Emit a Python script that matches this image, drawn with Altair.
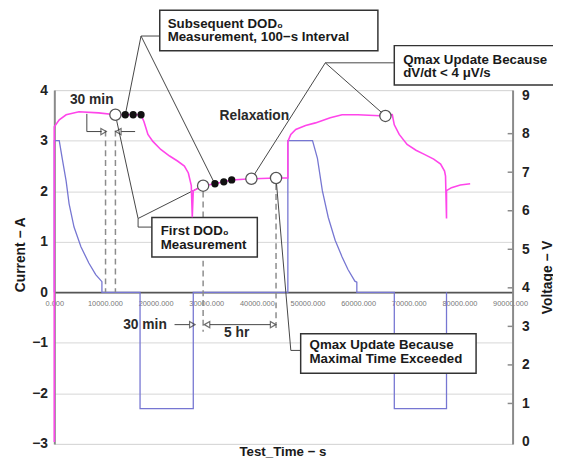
import altair as alt
import pandas as pd

# ---------------- data ----------------
# Current trace (A)
cur_t = [0, 0, 973, 1557, 2335, 2919, 3892, 5254, 6811, 8173, 9400, 9400,
         16930, 16930, 27440, 27440, 46120, 46120, 50990, 51960, 52930, 54100,
         55460, 56830, 57990, 59350, 59740, 59740, 67140, 67140, 77450, 77450]
cur_i = [0, 3.0, 3.0, 2.65, 2.20, 1.75, 1.29, 0.90, 0.58, 0.35, 0.21, 0,
         0, -2.3, -2.3, 0, 0, 3.0, 3.0, 2.65, 2.01, 1.48,
         1.03, 0.70, 0.45, 0.22, 0.20, 0, 0, -2.3, -2.3, 0]

# Voltage trace (V)
volt_t = [0, 0, 973, 2335, 4865, 8757, 12065, 14011, 15568, 17125,
          17709, 18487, 19460, 21017, 22768, 24325, 25687, 26466, 27050, 27244,
          27440, 29385, 31720, 33471, 35028, 38920, 43785, 46120, 46120, 46704,
          47677, 49623, 51569, 54488, 56823, 59937, 65386, 66748, 67137, 68110,
          69667, 71418, 72975, 74921, 76283, 77062, 77256, 77451, 77451, 78424,
          80176, 82122]
volt_v = [0.0, 8.18, 8.36, 8.49, 8.57, 8.54, 8.49, 8.49, 8.49, 8.49,
          8.31, 7.98, 7.80, 7.59, 7.42, 7.29, 7.16, 6.98, 6.65, 5.83,
          6.52, 6.65, 6.70, 6.75, 6.80, 6.83, 6.85, 6.85, 7.80, 7.98,
          8.11, 8.21, 8.28, 8.41, 8.49, 8.49, 8.46, 8.49, 8.23, 7.98,
          7.72, 7.57, 7.47, 7.34, 7.21, 7.03, 6.90, 5.80, 6.52, 6.60,
          6.67, 6.70]

# Marked points on the voltage trace
open_t = [12065, 29385, 38920, 43785, 65386]
open_v = [8.49, 6.65, 6.83, 6.85, 8.46]
dot_t = [14011, 15568, 17125, 31720, 33471, 35028]
dot_v = [8.49, 8.49, 8.49, 6.70, 6.75, 6.80]

# Dashed markers (time, current top, current bottom)
dash_t = [10116, 12065, 29385, 43785]
dash_top = [3.2, 3.2, 1.99, 2.14]
dash_bot = [0, 0, -0.78, -0.78]

# Callout / arrow polylines (group, time, current)
conn_g = [1, 1, 1, 2, 2, 3, 3, 3, 4, 4, 5, 5, 5, 5, 6, 6, 7, 7, 7,
          8, 8, 8, 9, 9, 10, 10, 11, 11]
conn_t = [20822, 17125, 14011, 17125, 31720, 67137, 53515, 38920, 53515, 65386,
          12065, 16541, 16541, 19265, 16541, 29385, 43785, 46704, 48650,
          6422, 6422, 9341, 13233, 15957, 23741, 26660, 30747, 42617]
conn_i = [5.07, 5.07, 3.51, 5.07, 2.14, 4.54, 4.54, 2.24, 4.54, 3.49,
          3.51, 1.46, 1.29, 1.29, 1.46, 2.11, 2.26, -1.15, -1.15,
          3.53, 3.18, 3.18, 3.18, 3.18, -0.64, -0.64, -0.64, -0.64]

tri_r_t = [9730, 27244, 43200]
tri_r_i = [3.18, -0.64, -0.64]
tri_l_t = [12650, 30163]
tri_l_i = [3.18, -0.64]

# Callout boxes
box_t1 = [20822, 67137, 19265, 48650]
box_t2 = [63900, 102165, 40088, 83289]
box_i1 = [5.58, 4.88, 1.48, -0.82]
box_i2 = [4.78, 4.10, 0.70, -1.60]

box_text = ["Subsequent DOD\u2080", "Measurement, 100\u2212s Interval",
            "Qmax Update Because", "dV/dt < 4 \u03bcV/s",
            "First DOD\u2080", "Measurement",
            "Qmax Update Because", "Maximal Time Exceeded"]
box_text_t = [22379, 22379, 68888, 68888, 21017, 21017, 50401, 50401]
box_text_i = [5.305, 5.05, 4.60, 4.33, 1.21, 0.94, -1.05, -1.32]

lab_text = ["30 min", "30 min", "5 hr", "Relaxation"]
lab_t = [7395, 17903, 36000, 39504]
lab_i = [3.80, -0.64, -0.80, 3.49]

x_ticks = [0, 10000, 20000, 30000, 40000, 50000, 60000, 70000, 80000, 90000]
i_ticks = [-3, -2, -1, 0, 1, 2, 3, 4]
v_ticks = [0, 1, 2, 3, 4, 5, 6, 7, 8, 9]

# ---------------- chart ----------------
W, H = 465, 359
FONT = "Liberation Sans"
PINK = "#ff45ea"
BLUE = "#7676d2"

xs = alt.Scale(domain=[0, 90500], nice=False)
X = alt.X("t:Q", scale=xs,
          axis=alt.Axis(values=x_ticks, format=".3f", labelFontSize=7.5,
                        labelColor="#777", labelPadding=8, ticks=False,
                        labelFlush=False, labelOverlap=False, offset=-154,
                        domainColor="#555", domainWidth=2, grid=False,
                        title=None))
X2 = alt.X2("t2:Q")

ys = alt.Scale(domain=[-3, 4], nice=False)
Y = alt.Y("i:Q", scale=ys,
          axis=alt.Axis(values=i_ticks, labelFontSize=14, labelFontWeight="bold",
                        labelColor="#222", labelPadding=7, ticks=False,
                        domainColor="#8a8a8a", domainWidth=2, grid=True,
                        gridColor="#d6d6d6", gridWidth=1, title=None))
Y2 = alt.Y2("i2:Q")

vs = alt.Scale(domain=[-0.05, 9.13], nice=False)
V = alt.Y("v:Q", scale=vs,
          axis=alt.Axis(orient="right", values=v_ticks, labelFontSize=14,
                        labelFontWeight="bold", labelColor="#222",
                        labelPadding=9, ticks=False, domainColor="#8a8a8a",
                        domainWidth=2, grid=False, title=None))

cur_df = pd.DataFrame({"t": cur_t, "i": cur_i, "o": range(len(cur_t))})
volt_df = pd.DataFrame({"t": volt_t, "v": volt_v, "o": range(len(volt_t))})
open_df = pd.DataFrame({"t": open_t, "v": open_v})
dot_df = pd.DataFrame({"t": dot_t, "v": dot_v})
dash_df = pd.DataFrame({"t": dash_t, "i": dash_top, "i2": dash_bot})
conn_df = pd.DataFrame({"g": conn_g, "t": conn_t, "i": conn_i,
                        "o": range(len(conn_t))})
trr_df = pd.DataFrame({"t": tri_r_t, "i": tri_r_i})
trl_df = pd.DataFrame({"t": tri_l_t, "i": tri_l_i})
box_df = pd.DataFrame({"t": box_t1, "t2": box_t2, "i": box_i1, "i2": box_i2})
btxt_df = pd.DataFrame({"t": box_text_t, "i": box_text_i, "s": box_text})
lab_df = pd.DataFrame({"t": lab_t, "i": lab_i, "s": lab_text})
one = pd.DataFrame({"s": ["x"]})
vt_df = pd.DataFrame({"v": v_ticks[1:-1]})

cur_line = alt.Chart(cur_df).mark_line(color=BLUE, strokeWidth=1.3).encode(
    x=X, y=Y, order="o:Q")
dashes = alt.Chart(dash_df).mark_rule(color="#8c8c8c", strokeWidth=1.5,
                                      strokeDash=[6, 4]).encode(x=X, y=Y, y2=Y2)
conns = alt.Chart(conn_df).mark_line(color="#444", strokeWidth=1).encode(
    x=X, y=Y, detail="g:N", order="o:Q")
tri_r = alt.Chart(trr_df).mark_point(shape="triangle-right", size=40,
                                     color="#333", strokeWidth=1.2,
                                     filled=False).encode(x=X, y=Y)
tri_l = alt.Chart(trl_df).mark_point(shape="triangle-left", size=40,
                                     color="#333", strokeWidth=1.2,
                                     filled=False).encode(x=X, y=Y)
boxes = alt.Chart(box_df).mark_rect(fill="white", stroke="#333",
                                    strokeWidth=1.5).encode(x=X, x2=X2, y=Y, y2=Y2)
btxt = alt.Chart(btxt_df).mark_text(align="left", baseline="middle", font=FONT,
                                    fontSize=13.5, fontWeight="bold",
                                    color="#1a1a1a").encode(x=X, y=Y, text="s:N")
labs = alt.Chart(lab_df).mark_text(align="center", baseline="middle", font=FONT,
                                   fontSize=14, fontWeight="bold",
                                   color="#2a2a2a").encode(x=X, y=Y, text="s:N")
xtitle = alt.Chart(one).mark_text(text="Test_Time \u2212 s", font=FONT,
                                  fontSize=13.5, fontWeight="bold",
                                  color="#1a1a1a", baseline="middle").encode(
    x=alt.value(232), y=alt.value(367))
ytitle = alt.Chart(one).mark_text(text="Current \u2212 A", font=FONT,
                                  fontSize=14, fontWeight="bold", angle=270,
                                  color="#1a1a1a", baseline="middle").encode(
    x=alt.value(-34), y=alt.value(167))

group_a = alt.layer(cur_line, dashes, conns, tri_r, tri_l, boxes, btxt, labs,
                    xtitle, ytitle)

volt_line = alt.Chart(volt_df).mark_line(color=PINK, strokeWidth=1.6).encode(
    x=X, y=V, order="o:Q")
opens = alt.Chart(open_df).mark_point(shape="circle", size=130, filled=True,
                                      fill="white", stroke="#555",
                                      strokeWidth=1.3, opacity=1).encode(x=X, y=V)
dots = alt.Chart(dot_df).mark_point(shape="circle", size=55, filled=True,
                                    color="#111", opacity=1).encode(x=X, y=V)
vticks = alt.Chart(vt_df).mark_rule(color="#8a8a8a", strokeWidth=1.5).encode(
    x=alt.value(W - 5), x2=alt.value(W), y=V)
vtitle = alt.Chart(one).mark_text(text="Voltage \u2212 V", font=FONT,
                                  fontSize=14, fontWeight="bold", angle=270,
                                  color="#1a1a1a", baseline="middle").encode(
    x=alt.value(W + 36), y=alt.value(190))

group_b = alt.layer(volt_line, opens, dots, vticks, vtitle)

chart = alt.layer(group_a, group_b).resolve_scale(y="independent").properties(
    width=W, height=H,
    padding={"left": 47, "top": 80, "right": 41, "bottom": 13},
    autosize=alt.AutoSizeParams(type="none"),
    background="white",
).configure_view(stroke="#8a8a8a", strokeWidth=2).configure(font=FONT)

chart.save("out.html", embed_options={"renderer": "svg", "actions": False})
